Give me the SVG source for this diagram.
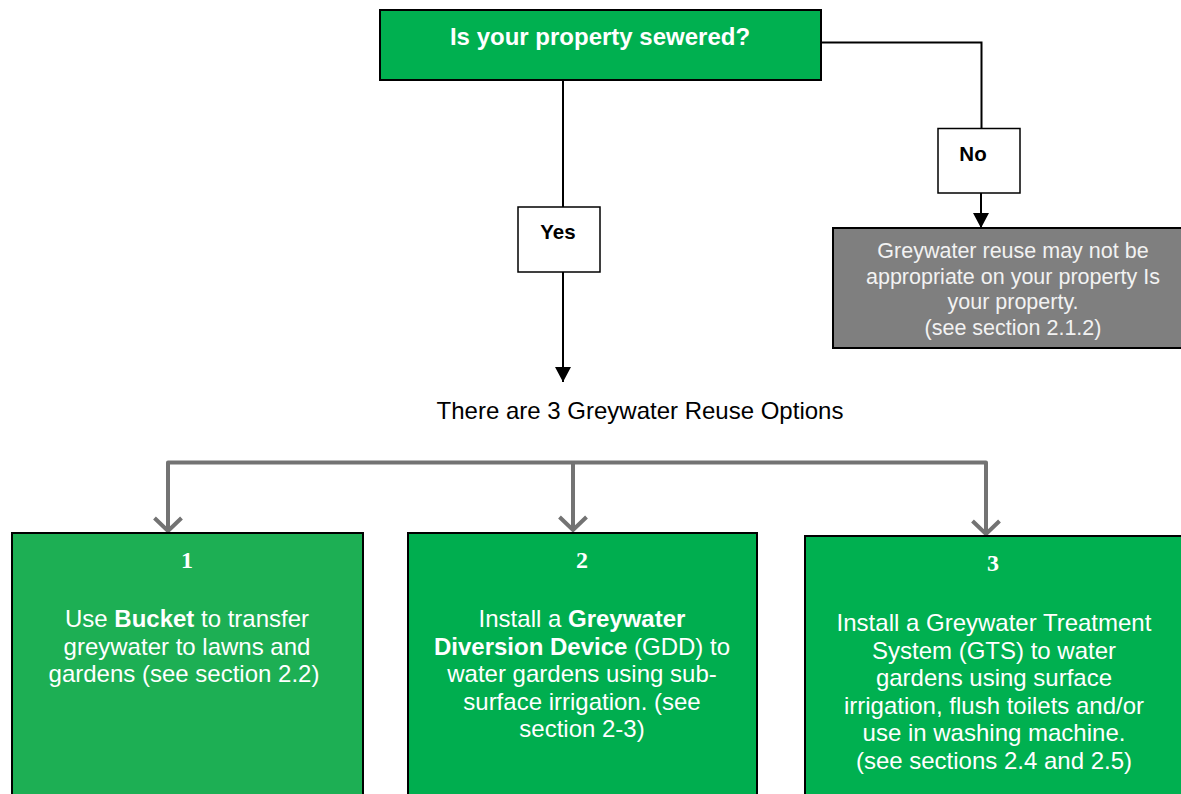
<svg xmlns="http://www.w3.org/2000/svg" width="1181" height="794" viewBox="0 0 1181 794">
<style>
text{font-family:"Liberation Sans",Arial,sans-serif;text-anchor:middle}
.title{font-size:24px;font-weight:bold;fill:#fff}
.yn{font-size:20.5px;font-weight:bold;fill:#000}
.grey{font-size:21.5px;fill:#f2f2f2}
.body{font-size:24px;fill:#fff}
.num{font-family:"Liberation Serif","Times New Roman",serif;font-size:24px;font-weight:bold;fill:#fff}
.plain{font-size:24px;fill:#000}
.b{font-weight:bold}
.blk{stroke:#000;stroke-width:2;fill:none}
.gry{stroke:#737373;stroke-width:4;fill:none;stroke-linejoin:round}
</style>
<defs>
<marker id="ab" markerUnits="userSpaceOnUse" markerWidth="16" markerHeight="16" viewBox="0 0 15 16" refX="15" refY="8" orient="auto">
<path d="M0,0 L15,8 L0,16 z" fill="#000"/>
</marker>
<marker id="ag" markerUnits="userSpaceOnUse" markerWidth="40" markerHeight="40" viewBox="-10 -20 40 40" refX="13" refY="0" orient="auto" overflow="visible">
<path d="M0,-13.5 L13,0 L0,13.5" fill="none" stroke="#737373" stroke-width="4"/>
</marker>
</defs>
<rect width="1181" height="794" fill="#fff"/>
<g id="connectors">
<path class="blk" d="M563,80 V207"/>
<path class="blk" d="M563,272 V382" marker-end="url(#ab)"/>
<path class="blk" d="M821,42.5 H981.5 V128.5"/>
<path class="blk" d="M981,193 V228" marker-end="url(#ab)"/>
<path class="gry" d="M168,475 V462.5 H986 V475"/>
<path class="gry" d="M168,470 V531" marker-end="url(#ag)"/>
<path class="gry" d="M573,462.5 V530" marker-end="url(#ag)"/>
<path class="gry" d="M986,470 V534" marker-end="url(#ag)"/>
</g>
<g id="q">
<rect x="380" y="10" width="441" height="70" fill="#00b050" stroke="#000" stroke-width="2"/>
<text class="title" x="600" y="45">Is your property sewered?</text>
</g>
<g id="yes">
<rect x="518" y="207" width="82" height="65" fill="#fff" stroke="#000" stroke-width="1.5"/>
<text class="yn" x="558" y="239">Yes</text>
</g>
<g id="no">
<rect x="938" y="128.5" width="82" height="64.5" fill="#fff" stroke="#000" stroke-width="1.5"/>
<text class="yn" x="973" y="160.5">No</text>
</g>
<g id="notsewered">
<rect x="833" y="228" width="360" height="120" fill="#7f7f7f" stroke="#000" stroke-width="2"/>
<text class="grey" x="1013" y="258">Greywater reuse may not be</text>
<text class="grey" x="1013" y="283.7">appropriate on your property Is</text>
<text class="grey" x="1013" y="309.3">your property.</text>
<text class="grey" x="1013" y="335">(see section 2.1.2)</text>
</g>
<g id="options">
<text class="plain" x="640" y="419">There are 3 Greywater Reuse Options</text>
</g>
<g id="opt1">
<rect x="12" y="533" width="351" height="270" fill="#1daf54" stroke="#000" stroke-width="2"/>
<text class="num" x="187" y="568" font-size="25">1</text>
<text class="body" x="187" y="627">Use <tspan class="b">Bucket</tspan> to transfer</text>
<text class="body" x="187" y="654.5">greywater to lawns and</text>
<text class="body" x="184" y="682">gardens (see section 2.2)</text>
</g>
<g id="opt2">
<rect x="408" y="533" width="349" height="270" fill="#00ae4f" stroke="#000" stroke-width="2"/>
<text class="num" x="582" y="568">2</text>
<text class="body" x="582" y="627">Install a <tspan class="b">Greywater</tspan></text>
<text class="body" x="582" y="654.5"><tspan class="b">Diversion Device</tspan> (GDD) to</text>
<text class="body" x="582" y="682">water gardens using sub-</text>
<text class="body" x="582" y="709.5">surface irrigation. (see</text>
<text class="body" x="582" y="737">section 2-3)</text>
</g>
<g id="opt3">
<rect x="805" y="536" width="380" height="270" fill="#00b050" stroke="#000" stroke-width="2"/>
<text class="num" x="993" y="571">3</text>
<text class="body" x="994" y="631">Install a Greywater Treatment</text>
<text class="body" x="994" y="658.5">System (GTS) to water</text>
<text class="body" x="994" y="686">gardens using surface</text>
<text class="body" x="994" y="713.5">irrigation, flush toilets and/or</text>
<text class="body" x="994" y="741">use in washing machine.</text>
<text class="body" x="994" y="768.5">(see sections 2.4 and 2.5)</text>
</g>
</svg>
